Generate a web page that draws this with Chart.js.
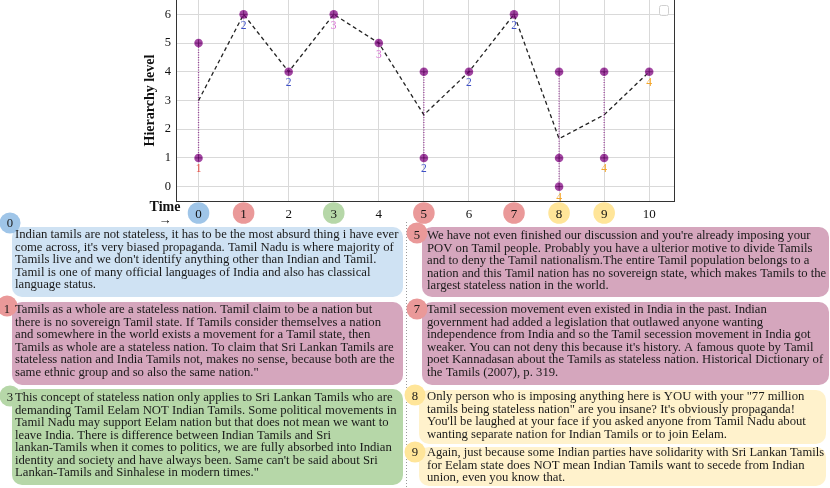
<!DOCTYPE html>
<html><head><meta charset="utf-8">
<script src="https://cdn.jsdelivr.net/npm/chart.js@4.4.0/dist/chart.umd.min.js"></script>
<style>html,body{margin:0;padding:0;background:#fff}#wrap{width:830px;height:488px;position:relative}</style>
</head><body><div id="wrap"><canvas id="c" width="830" height="488"></canvas></div>
<script>
// ---- data ----
const times = [0, 1, 2, 3, 4, 5, 6, 7, 8, 9, 10];
const levels = [[5, 1], [6], [4], [6], [5], [4, 1], [4], [6], [4, 1, 0], [4, 1], [4]];
const meanLevels = [3, 6, 4, 6, 5, 2.5, 4, 6, 1.67, 2.5, 4];
const pointTags = [1, 2, 2, 3, 3, 2, 2, 2, 4, 4, 4];
const xTicks = [0, 1, 2, 3, 4, 5, 6, 7, 8, 9, 10];
const yTicks = [0, 1, 2, 3, 4, 5, 6];
const badgeKinds = ['blue', 'red', null, 'green', null, 'red', null, 'red', 'yellow', 'yellow', null];

const commentIds = [0, 1, 3, 5, 7, 8, 9];
const commentKinds = ['blue', 'mauve', 'green', 'mauve', 'mauve', 'yellow', 'yellow'];
const commentBadgeKinds = ['blue', 'red', 'green', 'red', 'red', 'yellow', 'yellow'];
const commentText0 = ["Indian tamils are not stateless, it has to be the most absurd thing i have ever", "come across, it's very biased propaganda. Tamil Nadu is where majority of", "Tamils live and we don't identify anything other than Indian and Tamil.", "Tamil is one of many official languages of India and also has classical", "language status."];
const commentText1 = ["Tamils as a whole are a stateless nation. Tamil claim to be a nation but", "there is no sovereign Tamil state. If Tamils consider themselves a nation", "and somewhere in the world exists a movement for a Tamil state, then", "Tamils as whole are a stateless nation. To claim that Sri Lankan Tamils are", "stateless nation and India Tamils not, makes no sense, because both are the", "same ethnic group and so also the same nation.\""];
const commentText3 = ["This concept of stateless nation only applies to Sri Lankan Tamils who are", "demanding Tamil Eelam NOT Indian Tamils. Some political movements in", "Tamil Nadu may support Eelam nation but that does not mean we want to", "leave India. There is difference between Indian Tamils and Sri", "lankan-Tamils when it comes to politics, we are fully absorbed into Indian", "identity and society and have always been. Same can't be said about Sri", "Lankan-Tamils and Sinhalese in modern times.\""];
const commentText5 = ["We have not even finished our discussion and you're already imposing your", "POV on Tamil people. Probably you have a ulterior motive to divide Tamils", "and to deny the Tamil nationalism.The entire Tamil population belongs to a", "nation and this Tamil nation has no sovereign state, which makes Tamils to the", "largest stateless nation in the world."];
const commentText7 = ["Tamil secession movement even existed in India in the past. Indian", "government had added a legislation that outlawed anyone wanting", "independence from India and so the Tamil secession movement in India got", "weaker. You can not deny this because it's history. A famous quote by Tamil", "poet Kannadasan about the Tamils as stateless nation. Historical Dictionary of", "the Tamils (2007), p. 319."];
const commentText8 = ["Only person who is imposing anything here is YOU with your \"77 million", "tamils being stateless nation\" are you insane? It's obviously propaganda!", "You'll be laughed at your face if you asked anyone from Tamil Nadu about", "wanting separate nation for Indian Tamils or to join Eelam."];
const commentText9 = ["Again, just because some Indian parties have solidarity with Sri Lankan Tamils", "for Eelam state does NOT mean Indian Tamils want to secede from Indian", "union, even you know that."];
const commentTexts = [commentText0, commentText1, commentText3, commentText5, commentText7, commentText8, commentText9];

// ---- styles / layout ----
const SERIF = '"Liberation Serif", "Times New Roman", serif';
const badgeFill = {blue: '#9fc5e8', red: '#ea9999', green: '#b6d7a8', yellow: '#ffe599'};
const boxFill = {blue: '#cfe2f3', mauve: '#d5a6bd', green: '#b6d7a8', yellow: '#fff2cc'};
const tagColor = {1: '#e5483f', 2: '#3d4fc6', 3: '#d86fd4', 4: '#f4a62a'};
const PURPLE = 'rgba(128,0,128,0.72)';
const panelGeom = [
  {box: [12, 227, 391, 70], badge: [10, 223], tx: 15, ty: 235},
  {box: [12, 302, 391, 83], badge: [7, 306], tx: 15, ty: 310},
  {box: [12, 389, 391, 96], badge: [10, 396], tx: 15, ty: 398},
  {box: [422, 227, 407, 70], badge: [417, 233], tx: 427, ty: 236},
  {box: [422, 302, 407, 83], badge: [417, 309], tx: 427, ty: 310},
  {box: [419, 390, 407, 54], badge: [415, 395], tx: 427, ty: 397},
  {box: [419, 447, 407, 39], badge: [415, 452], tx: 427, ty: 453}
];

function rr(ctx, x, y, w, h, r) {
  ctx.beginPath();
  ctx.moveTo(x + r, y);
  ctx.arcTo(x + w, y, x + w, y + h, r);
  ctx.arcTo(x + w, y + h, x, y + h, r);
  ctx.arcTo(x, y + h, x, y, r);
  ctx.arcTo(x, y, x + w, y, r);
  ctx.closePath();
}

const datasets = [];
datasets.push({
  type: 'line', label: 'mean', data: times.map((t, i) => ({x: t, y: meanLevels[i]})),
  borderColor: '#222', borderWidth: 1.3, borderDash: [4, 3], pointRadius: 0, fill: false, order: 3
});
times.forEach((t, i) => {
  const v = levels[i];
  if (v.length > 1) {
    datasets.push({
      type: 'line', label: 'range' + t,
      data: [{x: t, y: Math.min(...v)}, {x: t, y: Math.max(...v)}],
      borderColor: PURPLE, borderWidth: 1.3, borderDash: [1, 1.5], pointRadius: 0, fill: false, order: 2
    });
  }
});
const pts = [];
times.forEach((t, i) => levels[i].forEach(v => pts.push({x: t, y: v})));
datasets.push({type: 'scatter', label: 'levels', data: pts, backgroundColor: PURPLE, borderColor: 'rgba(128,0,128,0.0)', pointRadius: 4.3, order: 1});
datasets.push({type: 'scatter', label: 'levels+', data: pts, pointStyle: 'cross', borderColor: 'rgba(80,0,80,0.55)', borderWidth: 1, pointRadius: 3.5, order: 0});

const extras = {
  id: 'extras',
  beforeDraw(chart) {
    const ctx = chart.ctx, xs = chart.scales.x;
    ctx.save();
    ctx.fillStyle = '#fff';
    ctx.fillRect(0, 0, chart.width, chart.height);
    times.forEach((t, i) => {
      const k = badgeKinds[i];
      if (!k) return;
      ctx.beginPath();
      ctx.arc(xs.getPixelForValue(t), 213, 10.8, 0, Math.PI * 2);
      ctx.fillStyle = badgeFill[k];
      ctx.fill();
    });
    ctx.restore();
  },
  afterDatasetsDraw(chart) {
    const ctx = chart.ctx, xs = chart.scales.x, ys = chart.scales.y;
    ctx.save();
    ctx.font = '11.5px ' + SERIF;
    ctx.textAlign = 'center';
    ctx.textBaseline = 'middle';
    times.forEach((t, i) => {
      const lo = Math.min(...levels[i]);
      ctx.fillStyle = tagColor[pointTags[i]];
      ctx.fillText(String(pointTags[i]), xs.getPixelForValue(t), ys.getPixelForValue(lo) + 11.5);
    });
    ctx.restore();
  },
  afterDraw(chart) {
    const ctx = chart.ctx, a = chart.chartArea;
    ctx.save();
    ctx.strokeStyle = '#333'; ctx.lineWidth = 1;
    ctx.beginPath(); ctx.moveTo(Math.round(a.right) + 0.5, a.top); ctx.lineTo(Math.round(a.right) + 0.5, a.bottom); ctx.stroke();
    ctx.strokeStyle = '#d0d0d0';
    rr(ctx, 659.5, 5.5, 9, 10, 2); ctx.fillStyle = 'rgba(255,255,255,0.8)'; ctx.fill(); ctx.stroke();
    ctx.fillStyle = '#111';
    ctx.font = 'bold 14px ' + SERIF;
    ctx.textAlign = 'center'; ctx.textBaseline = 'middle';
    ctx.fillText('Time', 165, 207);
    ctx.font = '13px ' + SERIF;
    ctx.fillText('\u2192', 165, 221);
    ctx.strokeStyle = '#999'; ctx.setLineDash([1, 2]);
    ctx.beginPath(); ctx.moveTo(406.5, 222); ctx.lineTo(406.5, 488); ctx.stroke();
    ctx.setLineDash([]);
    commentIds.forEach((id, j) => {
      const g = panelGeom[j];
      rr(ctx, g.box[0], g.box[1], g.box[2], g.box[3], 10);
      ctx.fillStyle = boxFill[commentKinds[j]];
      ctx.fill();
    });
    commentIds.forEach((id, j) => {
      const g = panelGeom[j];
      ctx.beginPath();
      ctx.arc(g.badge[0], g.badge[1], 10.5, 0, Math.PI * 2);
      ctx.fillStyle = badgeFill[commentBadgeKinds[j]];
      ctx.fill();
      ctx.fillStyle = '#1a1a1a';
      ctx.font = '12.7px ' + SERIF;
      ctx.textAlign = 'center'; ctx.textBaseline = 'middle';
      ctx.fillText(String(id), g.badge[0], j === 0 ? g.badge[1] + 1 : g.ty);
      ctx.textAlign = 'left';
      const maxW = g.box[0] + g.box[2] - g.tx - 2;
      commentTexts[j].forEach((line, k) => {
        ctx.fillText(line, g.tx, g.ty + k * 12.5, maxW);
      });
    });
    ctx.restore();
  }
};

new Chart(document.getElementById('c'), {
  type: 'scatter',
  data: {datasets},
  options: {
    responsive: false, animation: false, devicePixelRatio: 1,
    layout: {autoPadding: false, padding: {left: 138, right: 156, top: 0, bottom: 257}},
    plugins: {legend: {display: false}, tooltip: {enabled: false}},
    scales: {
      x: {
        type: 'linear', min: -0.5, max: 10.55,
        afterBuildTicks: s => { s.ticks = xTicks.map(v => ({value: v})); },
        afterFit: s => { s.height = 30; s.paddingLeft = 0; s.paddingRight = 0; },
        grid: {color: '#d9d9d9', lineWidth: 1, drawTicks: false},
        border: {display: true, color: '#333', width: 1},
        ticks: {color: '#111', font: {family: SERIF, size: 13}, padding: 6, maxRotation: 0, autoSkip: false}
      },
      y: {
        type: 'linear', min: -0.5, max: 6.5,
        afterBuildTicks: s => { s.ticks = yTicks.map(v => ({value: v})); },
        afterFit: s => { s.width = 38; s.paddingTop = 0; s.paddingBottom = 0; },
        grid: {color: '#d9d9d9', lineWidth: 1, drawTicks: false},
        border: {display: true, color: '#333', width: 1},
        ticks: {color: '#111', font: {family: SERIF, size: 12.5}, padding: 5},
        title: {display: true, text: 'Hierarchy level', color: '#111', font: {family: SERIF, size: 14, weight: 'bold'}, padding: {top: 4, bottom: 4}}
      }
    }
  },
  plugins: [extras]
});
</script>
</body></html>
